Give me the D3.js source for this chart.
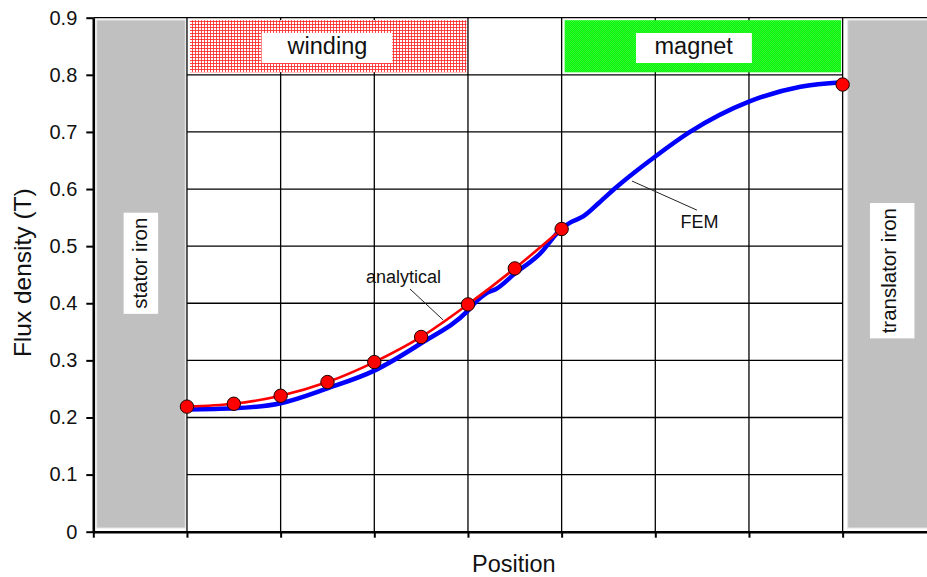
<!DOCTYPE html>
<html>
<head>
<meta charset="utf-8">
<script src="https://cdn.jsdelivr.net/npm/d3@7"></script>
<style>
  html, body { margin: 0; padding: 0; background: #fff; }
  svg { display: block; font-family: "Liberation Sans", Arial, sans-serif; }
</style>
</head>
<body>
<svg id="chart" width="927" height="577"></svg>
<script>
// Position along the air gap (stator iron 0-1, winding 1-4, gap 4-5, magnet 5-8, translator iron 8-9)
const analyticalPos = [1, 1.5, 2, 2.5, 3, 3.5, 4, 4.5, 5, 8];
const analyticalB   = [0.219, 0.224, 0.238, 0.262, 0.297, 0.341, 0.398, 0.461, 0.530, 0.783];

const femPos = [1, 1.5, 2, 2.5, 3, 3.5, 4, 4.1, 4.2, 4.3, 4.5, 4.77, 5, 5.1, 5.23, 5.4, 5.59, 6, 6.37, 7, 7.55, 8];
const femB   = [0.214, 0.216, 0.225, 0.251, 0.282, 0.330, 0.387, 0.405, 0.418, 0.425, 0.452, 0.487, 0.531, 0.542, 0.552, 0.576, 0.604, 0.657, 0.700, 0.753, 0.779, 0.787];

const yTicks = [0, 0.1, 0.2, 0.3, 0.4, 0.5, 0.6, 0.7, 0.8, 0.9];
const xTicks = [0, 1, 2, 3, 4, 5, 6, 7, 8, 9];
const gridX = [1, 2, 3, 4, 5, 6, 7, 8];
const gridY = [0.1, 0.2, 0.3, 0.4, 0.5, 0.6, 0.7, 0.8];

const svg = d3.select("#chart");
const x = d3.scaleLinear().domain([0, 9]).range([93.3, 936.3]);
const y = d3.scaleLinear().domain([0, 0.9]).range([531.7, 17.7]);

// Fill patterns for the winding and magnet regions
const defs = svg.append("defs");
const hatch = defs.append("pattern").attr("id", "windingHatch")
  .attr("patternUnits", "userSpaceOnUse").attr("width", 3).attr("height", 3);
hatch.append("rect").attr("width", 3).attr("height", 3).attr("fill", "#fff");
hatch.append("path").attr("d", "M0,0.5H3M0.5,0V3").attr("stroke", "#ff3030").attr("stroke-width", 0.9);

const dots = defs.append("pattern").attr("id", "magnetDots")
  .attr("patternUnits", "userSpaceOnUse").attr("width", 2).attr("height", 2);
dots.append("rect").attr("width", 2).attr("height", 2).attr("fill", "#00ff00");
dots.append("rect").attr("width", 1).attr("height", 1).attr("fill", "#38f038");
dots.append("rect").attr("x", 1).attr("y", 1).attr("width", 1).attr("height", 1).attr("fill", "#38f038");

// Grid
const grid = svg.append("g").attr("stroke", "#000").attr("stroke-width", 1.3);
grid.selectAll("line.h").data(gridY).join("line").attr("class", "h")
  .attr("x1", x(1)).attr("x2", x(8)).attr("y1", d => y(d)).attr("y2", d => y(d));
grid.selectAll("line.v").data(gridX).join("line").attr("class", "v")
  .attr("x1", d => x(d)).attr("x2", d => x(d)).attr("y1", y(0)).attr("y2", y(0.9));
grid.append("line").attr("x1", x(0)).attr("x2", x(9)).attr("y1", y(0.9)).attr("y2", y(0.9));

// Iron regions
const iron = [
  { name: "stator iron", x0: 0, x1: 1, lx: 0.5, ly: 0.47, padL: 9, padR: 11 },
  { name: "translator iron", x0: 8, x1: 9, lx: 8.5, ly: 0.457, padL: 12, padR: 18 }
];
svg.selectAll("rect.iron").data(iron).join("rect").attr("class", "iron")
  .attr("x", d => x(d.x0) + (d.x0 === 0 ? 3.4 : 5))
  .attr("width", d => x(d.x1) - x(d.x0) - (d.x0 === 0 ? 5.1 : 5))
  .attr("y", y(0.9) + 2.3).attr("height", y(0) - y(0.9) - 6)
  .attr("fill", "#c0c0c0").attr("stroke", "#e6e6e6").attr("stroke-width", 1);

iron.forEach(d => {
  const g = svg.append("g").attr("transform", `translate(${x(d.lx)},${y(d.ly)}) rotate(-90)`);
  const t = g.append("text").attr("text-anchor", "middle").attr("y", 7)
    .attr("font-size", 20.5).attr("fill", "#111").text(d.name);
  const bb = t.node().getBBox();
  g.insert("rect", "text")
    .attr("x", bb.x - 5).attr("width", bb.width + 10)
    .attr("y", 7 - 14.5 - d.padL).attr("height", 14.5 + d.padL + d.padR)
    .attr("fill", "#fff");
});

// Winding and magnet regions
const regions = [
  { name: "winding", x0: 1, x1: 4, fill: "url(#windingHatch)", lx: 2.5, pad: 25 },
  { name: "magnet", x0: 5, x1: 8, fill: "url(#magnetDots)", lx: 6.41, pad: 18.5 }
];
svg.selectAll("rect.region").data(regions).join("rect").attr("class", "region")
  .attr("x", d => x(d.x0) + 3).attr("width", d => x(d.x1) - x(d.x0) - 4.5)
  .attr("y", y(0.9) + 2.5).attr("height", y(0.8) - y(0.9) - 5)
  .attr("fill", d => d.fill);
regions.forEach(d => {
  const t = svg.append("text").attr("x", x(d.lx)).attr("y", 54)
    .attr("text-anchor", "middle").attr("font-size", 23.5).attr("fill", "#111").text(d.name);
  const bb = t.node().getBBox();
  svg.insert("rect", () => t.node())
    .attr("x", bb.x - d.pad).attr("width", bb.width + 2 * d.pad)
    .attr("y", 33).attr("height", 30).attr("fill", "#fff");
});

// Curves
const femLine = d3.line().x((d, i) => x(femPos[i])).y(d => y(d)).curve(d3.curveMonotoneX);
svg.append("path").attr("d", femLine(femB))
  .attr("fill", "none").attr("stroke", "#0000ff").attr("stroke-width", 4.5)
  .attr("stroke-linejoin", "round").attr("stroke-linecap", "round");

const redIdx = analyticalPos.map((p, i) => i).filter(i => analyticalPos[i] <= 5);
const anaLine = d3.line().x(i => x(analyticalPos[i])).y(i => y(analyticalB[i])).curve(d3.curveCatmullRom);
svg.append("path").attr("d", anaLine(redIdx))
  .attr("fill", "none").attr("stroke", "#ff0000").attr("stroke-width", 2.6);

svg.selectAll("circle.pt").data(analyticalB).join("circle").attr("class", "pt")
  .attr("cx", (d, i) => x(analyticalPos[i])).attr("cy", d => y(d)).attr("r", 6.7)
  .attr("fill", "#ff0000").attr("stroke", "#1a0000").attr("stroke-width", 1);

// Curve annotations
const notes = [
  { text: "analytical", tx: 3.312, ty: 0.436, l: [[3.381, 0.425], [3.733, 0.371]] },
  { text: "FEM", tx: 6.472, ty: 0.532, l: [[5.751, 0.614], [6.445, 0.563]] }
];
notes.forEach(n => {
  svg.append("line")
    .attr("x1", x(n.l[0][0])).attr("y1", y(n.l[0][1]))
    .attr("x2", x(n.l[1][0])).attr("y2", y(n.l[1][1]))
    .attr("stroke", "#222").attr("stroke-width", 1);
  svg.append("text").attr("x", x(n.tx)).attr("y", y(n.ty))
    .attr("text-anchor", "middle").attr("font-size", 18).attr("fill", "#111").text(n.text);
});

// Axes
const yAxis = svg.append("g").attr("transform", `translate(${x(0)},0)`)
  .call(d3.axisLeft(y).tickValues(yTicks).tickSize(7).tickSizeOuter(0).tickPadding(9)
    .tickFormat(d => d === 0 ? "0" : d3.format(".1f")(d)));
const xAxis = svg.append("g").attr("transform", `translate(0,${y(0)})`)
  .call(d3.axisBottom(x).tickValues(xTicks).tickSize(6).tickSizeOuter(0).tickFormat(""));
[yAxis, xAxis].forEach(a => {
  a.select(".domain").attr("stroke", "#000").attr("stroke-width", 2.6);
  a.selectAll(".tick line").attr("stroke", "#000").attr("stroke-width", 2);
  a.selectAll("text").attr("font-size", 20).attr("fill", "#111")
    .attr("font-family", "'Liberation Sans', Arial, sans-serif");
});

svg.append("text").attr("x", (x(0) + x(9)) / 2 - 1).attr("y", 571.5)
  .attr("text-anchor", "middle").attr("font-size", 23.5).attr("fill", "#111").text("Position");
svg.append("text").attr("transform", `translate(30.5,${(y(0) + y(0.9)) / 2 - 2}) rotate(-90)`)
  .attr("text-anchor", "middle").attr("font-size", 24.5).attr("fill", "#111").text("Flux density (T)");
</script>
</body>
</html>
